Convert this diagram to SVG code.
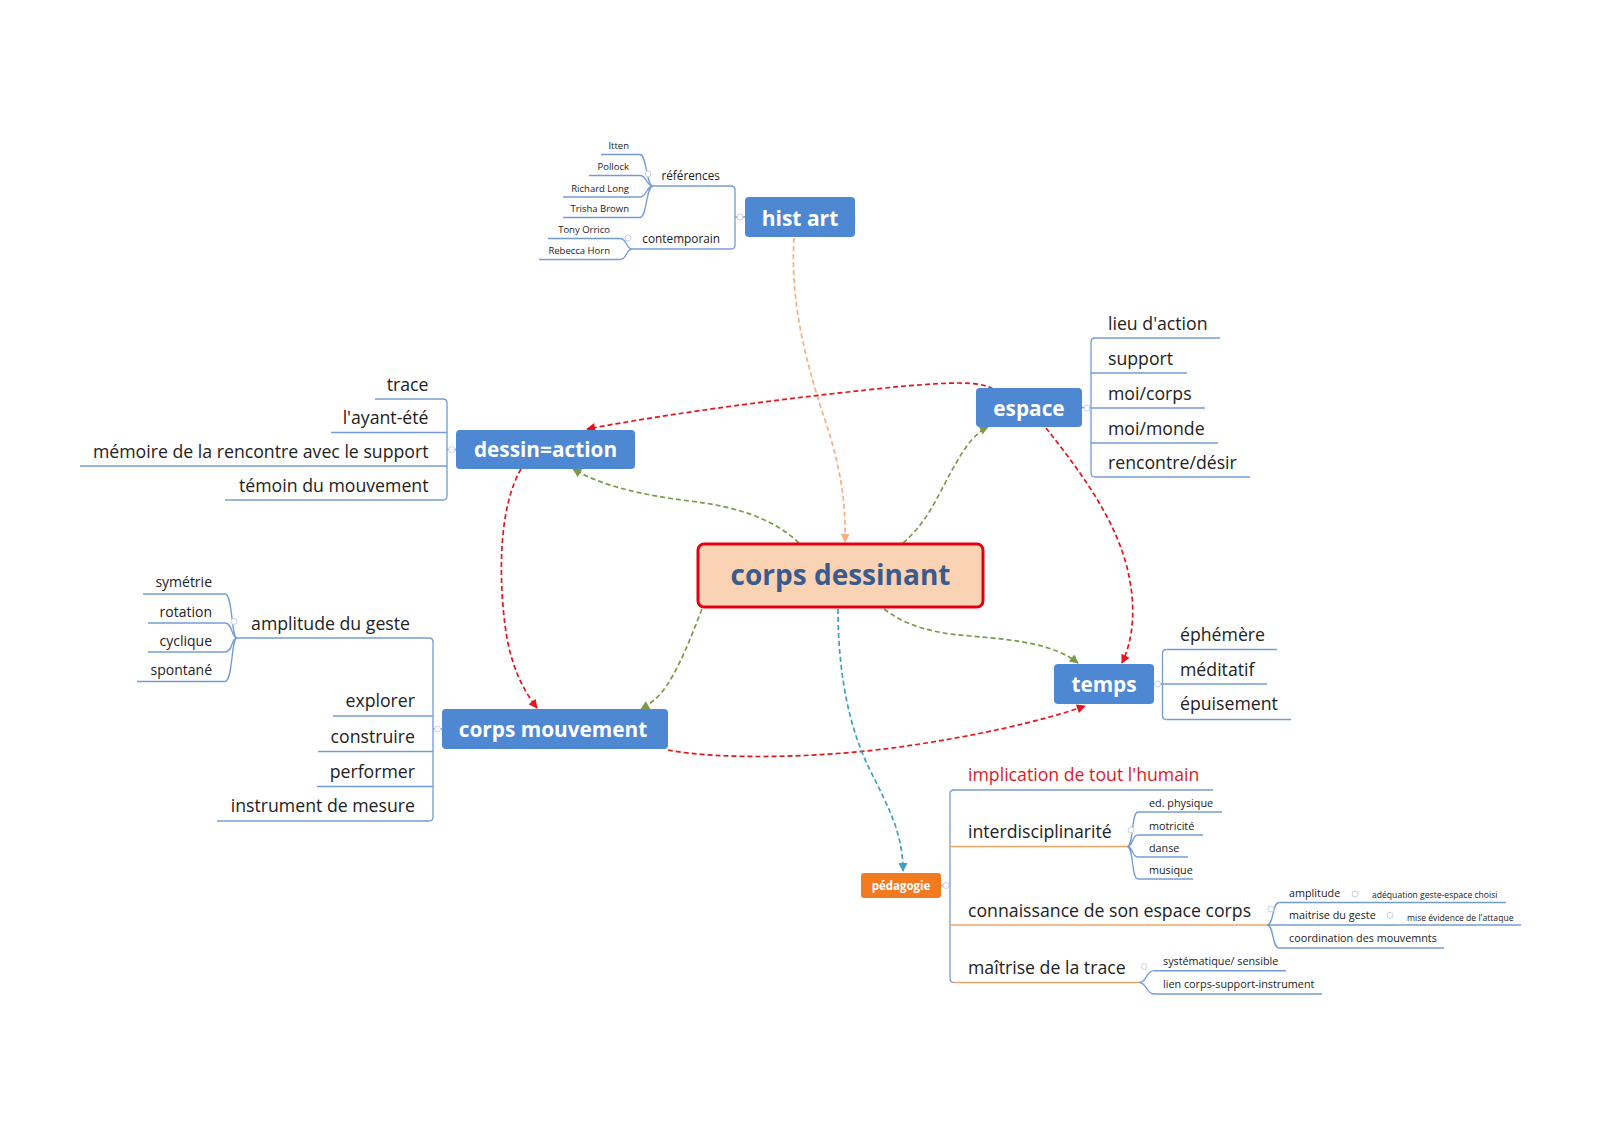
<svg xmlns="http://www.w3.org/2000/svg" width="1600" height="1130" viewBox="0 0 1600 1130">
<defs>
<style>
.t{font-family:"Open Sans","Liberation Sans",sans-serif;fill:#222}
.e{text-anchor:end}
.s18{font-size:17.7px}
.s14{font-size:14px}
.s12{font-size:11.8px}
.s11{font-size:10.8px}
.s9{font-size:9.5px}
.s8{font-size:8.6px}
.nb{fill:#4e87d2}
.nt{font-family:"Open Sans","Liberation Sans",sans-serif;font-weight:700;fill:#fff;text-anchor:middle}
.ul{fill:none;stroke:#739cd4;stroke-width:1.6}
.uo{fill:none;stroke:#f2a66c;stroke-width:1.6}
.br{fill:none;stroke:#739cd4;stroke-width:1.3}
.ci{fill:#fff;stroke:#c3d1e6;stroke-width:1}
.rel{fill:none;stroke-width:1.7;stroke-dasharray:5 3}
</style>
<marker id="aR" viewBox="0 0 10 10" refX="9" refY="5" markerWidth="10" markerHeight="9" markerUnits="userSpaceOnUse" orient="auto"><path d="M0,0 L10,5 L0,10 z" fill="#e8141c"/></marker>
<marker id="aG" viewBox="0 0 10 10" refX="9" refY="5" markerWidth="10" markerHeight="9" markerUnits="userSpaceOnUse" orient="auto"><path d="M0,0 L10,5 L0,10 z" fill="#7b9a48"/></marker>
<marker id="aP" viewBox="0 0 10 10" refX="9" refY="5" markerWidth="10" markerHeight="9" markerUnits="userSpaceOnUse" orient="auto"><path d="M0,0 L10,5 L0,10 z" fill="#f5b183"/></marker>
<marker id="aT" viewBox="0 0 10 10" refX="9" refY="5" markerWidth="10" markerHeight="9" markerUnits="userSpaceOnUse" orient="auto"><path d="M0,0 L10,5 L0,10 z" fill="#3f9fc2"/></marker>
</defs>
<rect width="1600" height="1130" fill="#fff"/>

<!-- branch lines (brackets / braces) -->
<g id="branch-lines">
  <path class="br" d="M731 186 Q735 186 735 190 V245 Q735 249 731 249 M735 217 H745"/>
  <path class="br" d="M640 154.5 C647 154.5 646 186 653 186 M640 175.5 C647 175.5 646 186 653 186 M640 197 C647 197 646 186 653 186 M640 217.5 C647 217.5 646 186 653 186"/>
  <path class="br" d="M620 238.5 C627 238.5 626 249 632 249 M620 259.5 C627 259.5 626 249 632 249"/>
  <path class="br" d="M443 399 Q447 399 447 403 V496 Q447 500 443 500 M447 449.5 H456"/>
  <path class="br" d="M1095 338 Q1091 338 1091 342 V473 Q1091 477 1095 477 M1082 407.5 H1091"/>
  <path class="br" d="M429 638 Q433 638 433 642 V817 Q433 821 429 821 M433 729 H442"/>
  <path class="br" d="M225 594 C233 594 231 638 237 638 M225 623 C233 623 231 638 237 638 M225 652 C233 652 231 638 237 638 M225 681.5 C233 681.5 231 638 237 638"/>
  <path class="br" d="M1166.5 649.5 Q1162.5 649.5 1162.5 653.5 V715.5 Q1162.5 719.5 1166.5 719.5 M1154 684 H1162.5"/>
  <path class="br" d="M954 790 Q950 790 950 794 V978.5 Q950 982.5 954 982.5 M941 885.5 H950"/>
  <path class="br" d="M1127 846.5 C1134 846.5 1131 812 1138 812 M1127 846.5 C1134 846.5 1131 835 1138 835 M1127 846.5 C1134 846.5 1131 857 1138 857 M1127 846.5 C1134 846.5 1131 879 1138 879"/>
  <path class="br" d="M1267 925 C1274 925 1272 902.5 1279 902.5 M1267 925 H1279 M1267 925 C1274 925 1272 948 1279 948"/>
  <path class="br" d="M1349 902.5 H1364 M1384 925 H1398.5"/>
  <path class="br" d="M1139 982.5 C1147 982.5 1146 970.7 1154 970.7 M1139 982.5 C1147 982.5 1146 994 1154 994"/>
  <circle class="ci" cx="740" cy="217" r="3"/>
  <circle class="ci" cx="648" cy="174" r="3"/>
  <circle class="ci" cx="628" cy="238" r="3"/>
  <circle class="ci" cx="451.5" cy="449.5" r="3"/>
  <circle class="ci" cx="1087" cy="408" r="3"/>
  <circle class="ci" cx="437.5" cy="729" r="3"/>
  <circle class="ci" cx="234" cy="621.5" r="3"/>
  <circle class="ci" cx="1157.5" cy="684" r="3"/>
  <circle class="ci" cx="946" cy="885.5" r="3"/>
  <circle class="ci" cx="1131" cy="830" r="3"/>
  <circle class="ci" cx="1271" cy="909" r="3"/>
  <circle class="ci" cx="1355" cy="894" r="3"/>
  <circle class="ci" cx="1390" cy="915.5" r="3"/>
  <circle class="ci" cx="1144" cy="966.5" r="3"/>
</g>

<!-- relationship connectors -->
<g id="connectors">
  <path class="rel" stroke="#f5b183" marker-end="url(#aP)" d="M794 238 C790 300 805 360 825 420 C840 465 846 500 845 542"/>
  <path class="rel" stroke="#e8141c" marker-end="url(#aR)" d="M993 389 C978 380 945 383 905 386 C805 396 690 410 587 429"/>
  <path class="rel" stroke="#7b9a48" marker-end="url(#aG)" d="M799 543 C775 520 740 507 690 501 C640 495 600 485 573 469"/>
  <path class="rel" stroke="#7b9a48" marker-end="url(#aG)" d="M903 543 C930 520 940 490 955 465 C965 447 975 433 988 427"/>
  <path class="rel" stroke="#7b9a48" marker-end="url(#aG)" d="M702 609 C690 640 678 670 665 688 C658 698 650 704 641 709"/>
  <path class="rel" stroke="#7b9a48" marker-end="url(#aG)" d="M884 609 C905 625 930 633 970 636 C1020 640 1055 645 1078 663"/>
  <path class="rel" stroke="#e8141c" marker-end="url(#aR)" d="M521 469 C500 505 498 570 505 625 C510 665 523 690 537 708"/>
  <path class="rel" stroke="#e8141c" marker-end="url(#aR)" d="M1046 428 C1075 465 1110 510 1125 560 C1138 605 1133 640 1122 663"/>
  <path class="rel" stroke="#e8141c" marker-end="url(#aR)" d="M668 750 C720 760 820 758 900 747 C970 737 1040 722 1085 706"/>
  <path class="rel" stroke="#3f9fc2" stroke-width="2" stroke-dasharray="6 3.5" marker-end="url(#aT)" d="M838 609 C838 660 845 720 870 770 C890 810 903 835 903 871"/>
</g>

<g id="corps-dessinant">
  <rect x="698" y="544" width="285" height="63" rx="6" fill="#fad3b5" stroke="#e3000f" stroke-width="3"/>
  <text x="840.5" y="585" font-family="'Open Sans','Liberation Sans',sans-serif" font-weight="700" font-size="28" fill="#3b5b8c" text-anchor="middle">corps dessinant</text>
</g>
<g id="hist-art">
  <rect class="nb" x="745" y="197" width="110" height="40" rx="4"/>
  <text class="nt" x="800" y="225.5" font-size="21">hist art</text>
</g>
<g id="dessin-action">
  <rect class="nb" x="456" y="430" width="179" height="39" rx="4"/>
  <text class="nt" x="545.5" y="457" font-size="20.8">dessin=action</text>
</g>
<g id="espace">
  <rect class="nb" x="976" y="388" width="106" height="39" rx="4"/>
  <text class="nt" x="1029" y="415.5" font-size="20.8">espace</text>
</g>
<g id="corps-mouvement">
  <rect class="nb" x="442" y="709" width="226" height="40" rx="4"/>
  <text class="nt" x="553" y="737" font-size="20.8">corps mouvement</text>
</g>
<g id="temps">
  <rect class="nb" x="1054" y="664" width="100" height="40" rx="4"/>
  <text class="nt" x="1104" y="692" font-size="20.8">temps</text>
</g>
<g id="pedagogie">
  <rect x="861" y="873" width="80" height="25" rx="3" fill="#f47a1f"/>
  <text class="nt" x="901" y="889.5" font-size="11.5">pédagogie</text>
</g>

<g id="t-references"><path class="ul" d="M653 186 H731"/><text class="t s12 e" x="720" y="180">références</text></g>
<g id="t-contemporain"><path class="ul" d="M632 249 H731"/><text class="t s12 e" x="720" y="243">contemporain</text></g>
<g id="t-itten"><path class="ul" d="M601 154.5 H640"/><text class="t s9 e" x="629" y="149">Itten</text></g>
<g id="t-pollock"><path class="ul" d="M589 175.5 H640"/><text class="t s9 e" x="629" y="170">Pollock</text></g>
<g id="t-richard-long"><path class="ul" d="M563 197 H640"/><text class="t s9 e" x="629" y="191.5">Richard Long</text></g>
<g id="t-trisha-brown"><path class="ul" d="M563 217.5 H640"/><text class="t s9 e" x="629" y="212">Trisha Brown</text></g>
<g id="t-tony-orrico"><path class="ul" d="M548 238.5 H620"/><text class="t s9 e" x="610" y="233">Tony Orrico</text></g>
<g id="t-rebecca-horn"><path class="ul" d="M539 259.5 H620"/><text class="t s9 e" x="610" y="254">Rebecca Horn</text></g>

<g id="t-trace"><path class="ul" d="M375 399 H443"/><text class="t s18 e" x="428.5" y="390.5">trace</text></g>
<g id="t-ayant-ete"><path class="ul" d="M331 432.5 H447"/><text class="t s18 e" x="428.5" y="424">l'ayant-été</text></g>
<g id="t-memoire"><path class="ul" d="M80 466 H447"/><text class="t s18 e" x="428.5" y="457.5">mémoire de la rencontre avec le support</text></g>
<g id="t-temoin"><path class="ul" d="M225 500 H443"/><text class="t s18 e" x="428.5" y="491.5">témoin du mouvement</text></g>

<g id="t-lieu"><path class="ul" d="M1095 338 H1220"/><text class="t s18" x="1108" y="329.5">lieu d'action</text></g>
<g id="t-support"><path class="ul" d="M1091 373 H1187"/><text class="t s18" x="1108" y="364.5">support</text></g>
<g id="t-moi-corps"><path class="ul" d="M1091 408 H1205"/><text class="t s18" x="1108" y="399.5">moi/corps</text></g>
<g id="t-moi-monde"><path class="ul" d="M1091 443 H1218"/><text class="t s18" x="1108" y="434.5">moi/monde</text></g>
<g id="t-rencontre"><path class="ul" d="M1095 477 H1250"/><text class="t s18" x="1108" y="468.5">rencontre/désir</text></g>

<g id="t-amplitude-geste"><path class="ul" d="M237 638 H429"/><text class="t s18 e" x="410" y="629.5">amplitude du geste</text></g>
<g id="t-explorer"><path class="ul" d="M333 716 H433"/><text class="t s18 e" x="415" y="707">explorer</text></g>
<g id="t-construire"><path class="ul" d="M318 751.5 H433"/><text class="t s18 e" x="415" y="742.5">construire</text></g>
<g id="t-performer"><path class="ul" d="M317 786.5 H433"/><text class="t s18 e" x="415" y="777.5">performer</text></g>
<g id="t-instrument"><path class="ul" d="M217 821 H429"/><text class="t s18 e" x="415" y="812">instrument de mesure</text></g>
<g id="t-symetrie"><path class="ul" d="M143 594 H225"/><text class="t s14 e" x="212" y="587">symétrie</text></g>
<g id="t-rotation"><path class="ul" d="M148 623 H225"/><text class="t s14 e" x="212" y="616.5">rotation</text></g>
<g id="t-cyclique"><path class="ul" d="M148 652 H225"/><text class="t s14 e" x="212" y="645.5">cyclique</text></g>
<g id="t-spontane"><path class="ul" d="M137 681.5 H225"/><text class="t s14 e" x="212" y="674.5">spontané</text></g>

<g id="t-ephemere"><path class="ul" d="M1166.5 649.5 H1277"/><text class="t s18" x="1180" y="641">éphémère</text></g>
<g id="t-meditatif"><path class="ul" d="M1162.5 684 H1267"/><text class="t s18" x="1180" y="675.5">méditatif</text></g>
<g id="t-epuisement"><path class="ul" d="M1166.5 719.5 H1291"/><text class="t s18" x="1180" y="710">épuisement</text></g>

<g id="t-implication"><path class="ul" d="M954 790 H1213"/><text class="t s18" x="968" y="781" style="fill:#e3191f">implication de tout l'humain</text></g>
<g id="t-interdisciplinarite"><path class="uo" d="M950 846.5 H1127"/><text class="t s18" x="968" y="838">interdisciplinarité</text></g>
<g id="t-connaissance"><path class="uo" d="M950 925 H1267"/><text class="t s18" x="968" y="916.5">connaissance de son espace corps</text></g>
<g id="t-maitrise-trace"><path class="uo" d="M954 982.5 H1139"/><text class="t s18" x="968" y="973.5">maîtrise de la trace</text></g>
<g id="t-ed-physique"><path class="ul" d="M1138 812 H1222"/><text class="t s11" x="1149" y="806.5">ed. physique</text></g>
<g id="t-motricite"><path class="ul" d="M1138 835 H1203"/><text class="t s11" x="1149" y="829.5">motricité</text></g>
<g id="t-danse"><path class="ul" d="M1138 857 H1188"/><text class="t s11" x="1149" y="851.5">danse</text></g>
<g id="t-musique"><path class="ul" d="M1138 879 H1193"/><text class="t s11" x="1149" y="873.5">musique</text></g>
<g id="t-amplitude"><path class="ul" d="M1279 902.5 H1349"/><text class="t s11" x="1289" y="896.5">amplitude</text></g>
<g id="t-adequation"><path class="ul" d="M1364 902.5 H1506"/><text class="t s8" x="1372" y="898">adéquation geste-espace choisi</text></g>
<g id="t-maitrise-geste"><path class="ul" d="M1279 925 H1384"/><text class="t s11" x="1289" y="919">maitrise du geste</text></g>
<g id="t-mise-evidence"><path class="ul" d="M1398.5 925 H1521"/><text class="t s8" x="1407" y="920.5">mise évidence de l'attaque</text></g>
<g id="t-coordination"><path class="ul" d="M1279 948 H1444"/><text class="t s11" x="1289" y="941.5">coordination des mouvemnts</text></g>
<g id="t-systematique"><path class="ul" d="M1154 970.7 H1286"/><text class="t s11" x="1163" y="964.5">systématique/ sensible</text></g>
<g id="t-lien"><path class="ul" d="M1154 994 H1322"/><text class="t s11" x="1163" y="988">lien corps-support-instrument</text></g>
</svg>
